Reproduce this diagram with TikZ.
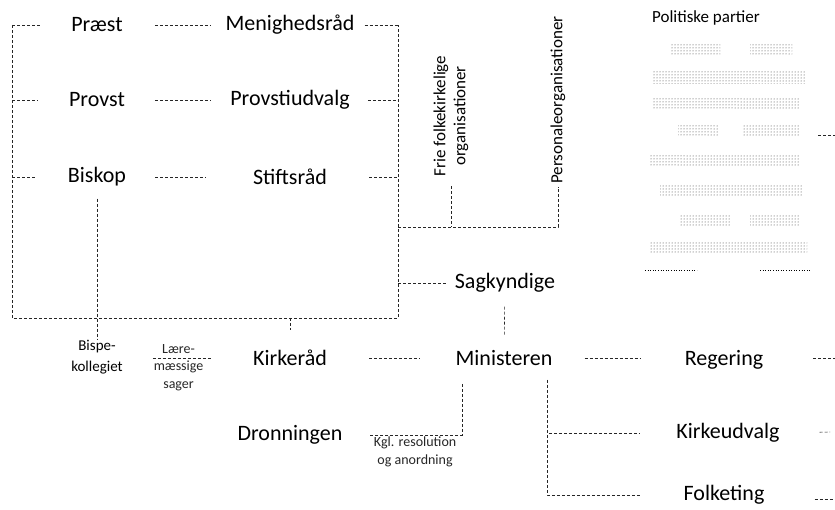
\documentclass[tikz,border=0pt]{standalone}
\usepackage{fontspec}
\setmainfont{Carlito}
\usetikzlibrary{patterns}

\begin{document}
\begin{tikzpicture}[x=1pt, y=-1pt,
    lbl/.style={font=\fontsize{22}{26}\selectfont, inner sep=2pt},
    note/.style={font=\fontsize{14}{18}\selectfont, align=center, inner sep=1pt},
    side/.style={font=\fontsize{17}{20}\selectfont, align=center, rotate=90, inner sep=1pt},
    link/.style={densely dashed, line width=0.6pt, black!85},
    blur/.style={pattern=dots, pattern color=black!80, draw=none},
]
\useasboundingbox (0,0) rectangle (835,510);

% church bodies inside the frame
\node[lbl] (praest) at (97,25) {Præst};
\node[lbl] (menig) at (290,25) {Menighedsråd};
\node[lbl] (provst) at (97,100) {Provst};
\node[lbl] (provudv) at (290,100) {Provstiudvalg};
\node[lbl] (biskop) at (97,177) {Biskop};
\node[lbl] (stift) at (290,177) {Stiftsråd};

\coordinate (boxNW) at (12,25);
\coordinate (boxSW) at (12,318);
\coordinate (boxSE) at (398,318);
\coordinate (boxNE) at (398,25);
\draw[link] (boxNW) -- (boxSW) -- (boxSE) -- (boxNE);

\foreach \n in {praest,provst,biskop}
  \draw[link, shorten >=29pt] (\n -| boxNW) -- (\n.west);
\foreach \n/\s in {menig/8,provudv/16,stift/40}
  \draw[link, shorten <=\s pt] (\n.east) -- (\n -| boxNE);

\draw[link, shorten <=30pt, shorten >=13pt] (praest) -- (menig);
\draw[link, shorten <=28pt, shorten >=18pt] (provst) -- (provudv);
\draw[link, shorten <=27pt, shorten >=45pt] (biskop) -- (stift);

% organisations
\node[side] (frie) at (451,116) {Frie folkekirkelige\\organisationer};
\node[side] (persorg) at (558,100) {Personaleorganisationer};
\coordinate (orgY) at (398,227);
\draw[link, shorten >=2pt] (orgY) -| (persorg);
\draw[link, shorten <=9pt] (frie) -- (frie |- orgY);

% political parties
\node[font=\fontsize{17}{20}\selectfont] (partier) at (706,18) {Politiske partier};
\foreach \y/\a/\b in {50/670/720, 50/750/792, 78/652/805, 103/653/800,
                      130/678/718, 130/743/800, 160/650/800, 190/660/803,
                      220/680/730, 220/750/800, 248/650/807}
  \fill[blur] (\a,\y-6) rectangle (\b,\y+6);
\draw[dotted, line width=0.6pt] (645,270) -- (697,270);
\draw[dotted, line width=0.6pt] (760,270) -- (810,270);
\coordinate (listE) at (818,135);
\coordinate (listR) at (835,135);
\draw[link] (listE) -- (listR);

% state side
\node[lbl] (sagk) at (505,283) {Sagkyndige};
\node[lbl] (minist) at (504,358) {Ministeren};
\node[lbl] (kirke) at (290,358) {Kirkeråd};
\node[lbl] (dronning) at (290,435) {Dronningen};
\node[lbl] (reg) at (724,360) {Regering};
\node[lbl] (kudv) at (728,433) {Kirkeudvalg};
\node[lbl] (folk) at (724,495) {Folketing};
\node[note, font=\fontsize{15}{21}\selectfont] (bispek) at (97,357) {Bispe-\\kollegiet};

\draw[link, shorten >=5pt] (sagk -| boxNE) -- (sagk);
\draw[link, shorten <=12pt, shorten >=12pt] (sagk) -- (minist);
\draw[link, shorten >=18pt] (kirke |- boxSE) -- (kirke);
\draw[link, shorten <=10pt] (biskop) -- (bispek);
\draw[link, shorten <=29pt, shorten >=40pt] (bispek.east |- kirke) -- (kirke)
  node[note, pos=0.43, above=3pt] {Lære-}
  node[note, pos=0.43, below=2pt] {mæssige\\sager};
\draw[link, shorten <=40pt, shorten >=33pt] (kirke) -- (minist);
\draw[link, shorten <=30pt, shorten >=42pt] (minist) -- (reg.west |- minist);
\draw[link, shorten <=16pt, shorten >=25pt] ([xshift=-42pt]minist.south) |- (dronning)
  node[note, pos=0.7, below, align=center] {Kgl. resolution\\og anordning};
\draw[link, shorten <=12pt, shorten >=34pt] ([xshift=43pt]minist.south) |- (kudv);
\draw[link, shorten <=12pt, shorten >=41pt] ([xshift=43pt]minist.south) |- (folk);

\coordinate (regR) at (835,358);
\coordinate (kudvR) at (830,432);
\coordinate (folkR) at (833,499);
\draw[link, shorten <=48pt] (reg.east |- regR) -- (regR);
\draw[link, shorten <=38pt] (kudv.east) -- (kudvR);
\draw[link, shorten <=48pt] (folk.east |- folkR) -- (folkR);
\end{tikzpicture}
\end{document}
